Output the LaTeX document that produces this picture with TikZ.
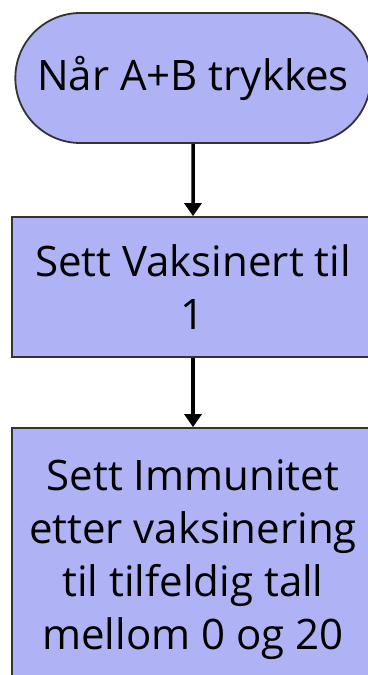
\documentclass[tikz,border=0pt]{standalone}
\usepackage{fontspec}
\setmainfont{Open Sans}
\usepackage{tikz}
\usetikzlibrary{shapes.misc, arrows.meta, positioning}

\definecolor{lavendel}{RGB}{175,179,245}

\begin{document}
\begin{tikzpicture}[
  x=1pt, y=1pt,
  box/.style={draw=black!80, line width=1.8pt, fill=lavendel, minimum width=362pt, align=center, font=\fontsize{42}{53}\selectfont},
  term/.style={box, rounded rectangle, minimum height=130pt},
  arrow/.style={-{Triangle[length=13pt, width=17pt]}, line width=3.5pt, black}
]
\useasboundingbox (0,0) rectangle (367,-675);
\fill[white] (0,0) rectangle (367,-675);
\node[term] (start) at (193,-78) {Når A+B trykkes};
\node[box, minimum height=140pt] (vaks) at (193,-287) {Sett Vaksinert til\\1};
\node[box, minimum height=264pt] (immun) at (193,-560) {Sett Immunitet\\etter vaksinering\\til tilfeldig tall\\mellom 0 og 20};
\draw[arrow] (start) -- (vaks);
\draw[arrow] (vaks) -- (immun);
\end{tikzpicture}
\end{document}
